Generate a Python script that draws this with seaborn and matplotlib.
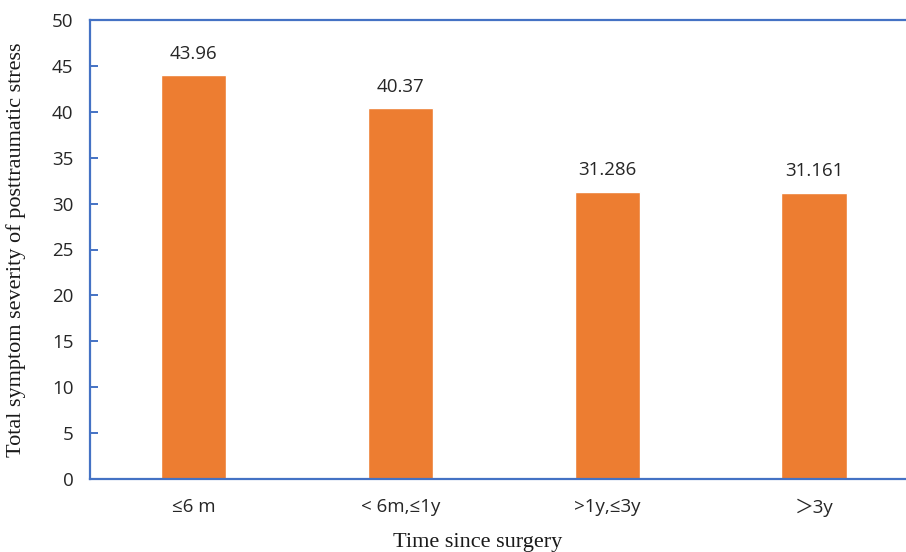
import matplotlib
matplotlib.use("Agg")
import matplotlib.pyplot as plt
import seaborn as sns

# data
categories = ["≤6 m", "< 6m,≤1y", ">1y,≤3y", "＞3y"]
values = [43.96, 40.37, 31.286, 31.161]
value_labels = ["43.96", "40.37", "31.286", "31.161"]
y_ticks = [0, 5, 10, 15, 20, 25, 30, 35, 40, 45, 50]

sns.set_style("white")
plt.rcParams["font.family"] = ["Open Sans", "Noto Sans CJK SC", "DejaVu Sans"]

blue = "#4472C4"
orange = "#ED7D31"
text_col = "#262626"

fig = plt.figure(figsize=(9.06, 5.52), dpi=100)
# plot area runs slightly past the right edge, like the cropped original
ax = fig.add_axes([90 / 906, 73 / 552, 827.5 / 906, 459 / 552])

sns.barplot(x=categories, y=values, color=orange, saturation=1, width=0.315, ax=ax)

ax.set_ylim(0, 50)
ax.set_xlim(-0.5, 3.5)
ax.set_yticks(y_ticks)

for side in ["left", "top", "bottom", "right"]:
    ax.spines[side].set_color(blue)
    ax.spines[side].set_linewidth(1.6)

ax.tick_params(axis="y", direction="in", length=6, width=1.4, color=blue,
               labelsize=13.5, labelcolor=text_col, pad=12, left=True)
ax.tick_params(axis="x", length=0, labelsize=13.5, labelcolor=text_col, pad=14)

ax.bar_label(ax.containers[0], labels=value_labels, padding=9,
             fontsize=13.5, color=text_col)

ax.set_xlabel("Time since surgery", family="Liberation Serif", fontsize=16,
              color="#1a1a1a")
ax.xaxis.set_label_coords(0.468, -0.117)
ax.set_ylabel("Total symptom severity of posttraumatic stress",
              family="Liberation Serif", fontsize=16, color="#1a1a1a")
ax.yaxis.set_label_coords(-0.0775, 0.5)

fig.savefig("out.png", dpi=100)
